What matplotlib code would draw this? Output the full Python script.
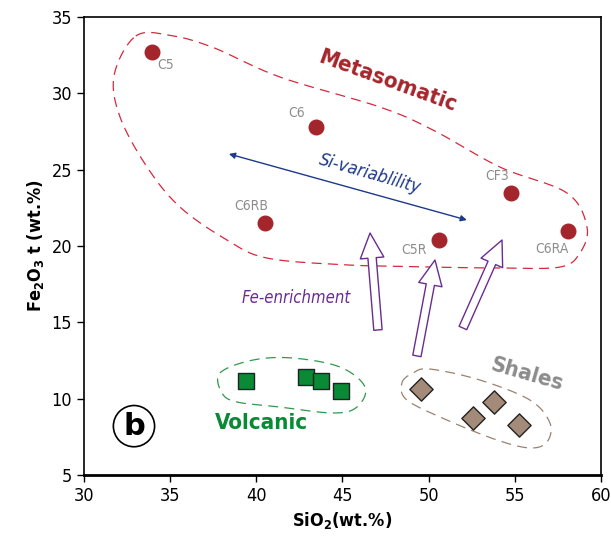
import numpy as np
import matplotlib.pyplot as plt
from matplotlib.patches import FancyArrowPatch, ArrowStyle

plt.rcParams['font.family'] = ['DejaVu Sans']
plt.rcParams['font.stretch'] = 'condensed'

# Metasomatic samples
meta_names = ['C5', 'C6', 'C6RB', 'CF3', 'C5R', 'C6RA']
meta_sio2 = [33.95, 43.45, 40.5, 54.8, 50.6, 58.1]
meta_fe2o3 = [32.7, 27.8, 21.5, 23.5, 20.4, 21.0]

# Volcanic rocks
volc_sio2 = [39.4, 42.9, 43.75, 44.9]
volc_fe2o3 = [11.15, 11.4, 11.15, 10.5]

# Shales
shale_sio2 = [49.55, 52.6, 53.8, 55.25]
shale_fe2o3 = [10.65, 8.75, 9.8, 8.3]

# hand-drawn field outlines (SiO2, Fe2O3)
meta_field = [(33.0, 33.75), (35.0, 33.8), (37.5, 33.0), (41.37, 31.07),
              (47.18, 29.10), (50.25, 27.60), (54.14, 25.17), (58.03, 23.47),
              (59.19, 21.24), (58.78, 19.54), (57.62, 18.62), (54.14, 18.56),
              (50.25, 18.62), (45.26, 18.76), (40.62, 19.21), (38.30, 20.39),
              (35.57, 22.55), (33.66, 25.17), (32.09, 28.45), (31.75, 31.2)]
volc_field = [(37.89, 11.68), (39.81, 12.53), (42.13, 12.66), (44.86, 12.07),
              (46.31, 10.76), (45.84, 9.45), (44.45, 9.06), (41.37, 9.45),
              (38.88, 9.78), (38.01, 10.37)]
shale_field = [(48.45, 11.03), (49.09, 11.68), (50.08, 11.94), (52.98, 11.22),
               (55.88, 9.91), (57.04, 8.41), (56.87, 7.16), (55.88, 6.77),
               (53.97, 7.29), (51.06, 8.60), (48.74, 9.91)]

# Fe-enrichment arrows: (tail, tip)
fe_arrows = [((47.06, 14.5), (46.6, 20.85)),
             ((49.32, 12.8), (50.37, 19.08)),
             ((51.99, 14.63), (54.26, 20.39))]


def closed_curve(pts, n=30):
    # periodic Catmull-Rom spline through the outline points
    p = np.array(pts)
    m = len(p)
    out = []
    for i in range(m):
        p0, p1, p2, p3 = p[i - 1], p[i], p[(i + 1) % m], p[(i + 2) % m]
        t = np.linspace(0, 1, n, endpoint=False)[:, None]
        out.append(0.5 * ((2 * p1) + (-p0 + p2) * t
                          + (2 * p0 - 5 * p1 + 4 * p2 - p3) * t ** 2
                          + (-p0 + 3 * p1 - 3 * p2 + p3) * t ** 3))
    out = np.vstack(out)
    return np.vstack([out, out[:1]])


fig = plt.figure(figsize=(6.11, 5.4), dpi=100)
ax = fig.add_axes([0.1375, 0.1204, 0.846, 0.8481])

for pts, col in [(meta_field, '#d6283c'), (volc_field, '#2e9a4a'), (shale_field, '#9a8270')]:
    c = closed_curve(pts)
    ax.plot(c[:, 0], c[:, 1], ls=(0, (8, 5)), color=col, lw=0.9)

ax.scatter(meta_sio2, meta_fe2o3, s=110, color='#a4262c', zorder=5)
ax.scatter(volc_sio2, volc_fe2o3, s=120, marker='s', color='#0a8a35',
           edgecolor='#222222', linewidth=1.0, zorder=5)
ax.scatter(shale_sio2, shale_fe2o3, s=140, marker='D', color='#a48a78',
           edgecolor='#222222', linewidth=1.0, zorder=5)

label_offsets = {'C5': (10, -9), 'C6': (-14, 10), 'C6RB': (-10, 12),
                 'CF3': (-10, 12), 'C5R': (-18, -7), 'C6RA': (-12, -13)}
for name, x, y in zip(meta_names, meta_sio2, meta_fe2o3):
    ax.annotate(name, (x, y), xytext=label_offsets[name], textcoords='offset points',
                ha='center', va='center', fontsize=10, color='#8c8c8c')

# Si variability double arrow
ax.annotate('', xy=(38.41, 26.03), xytext=(52.22, 21.70),
            arrowprops=dict(arrowstyle='<|-|>', color='#1d3a8a', lw=1.0,
                            mutation_scale=9, shrinkA=0, shrinkB=0))
ax.text(46.6, 24.75, 'Si-variablility', rotation=-16, style='italic',
        color='#1d3a8a', fontsize=13, ha='center', va='center')

style = ArrowStyle.Simple(head_length=1.8, head_width=1.7, tail_width=0.6)
for tail, tip in fe_arrows:
    ax.add_patch(FancyArrowPatch(tail, tip, arrowstyle=style, mutation_scale=10,
                                 facecolor='white', edgecolor='#6a2c91', lw=1.0,
                                 shrinkA=0, shrinkB=0, zorder=4))

ax.text(47.6, 30.8, 'Metasomatic', rotation=-20, fontweight='bold', fontsize=16,
        color='#a4262c', ha='center', va='center')
ax.text(42.3, 16.6, 'Fe-enrichment', style='italic', fontsize=12,
        color='#6a2c91', ha='center', va='center')
ax.text(40.3, 8.4, 'Volcanic', fontweight='bold', fontsize=16,
        color='#0a8a35', ha='center', va='center')
ax.text(55.7, 11.6, 'Shales', rotation=-16, fontweight='bold', fontsize=16,
        color='#8c8c8c', ha='center', va='center')
ax.text(32.9, 8.2, 'b', fontweight='bold', fontsize=22, ha='center', va='center',
        fontstretch='normal',
        bbox=dict(boxstyle='circle,pad=0.2', facecolor='white', edgecolor='black', lw=1.2))

ax.set_xlim(30, 60)
ax.set_ylim(5, 35)
ax.set_xticks(range(30, 61, 5))
ax.set_yticks(range(5, 36, 5))
ax.tick_params(direction='out', length=5, width=1, labelsize=13)
for sp in ax.spines.values():
    sp.set_linewidth(1.2)
ax.spines['bottom'].set_linewidth(2)
ax.set_xlabel('SiO$_\\mathbf{2}$(wt.%)', fontweight='bold', fontsize=13)
ax.set_ylabel('Fe$_\\mathbf{2}$O$_\\mathbf{3}$ t (wt.%)', fontweight='bold', fontsize=13)

fig.savefig('out.png', dpi=100)
